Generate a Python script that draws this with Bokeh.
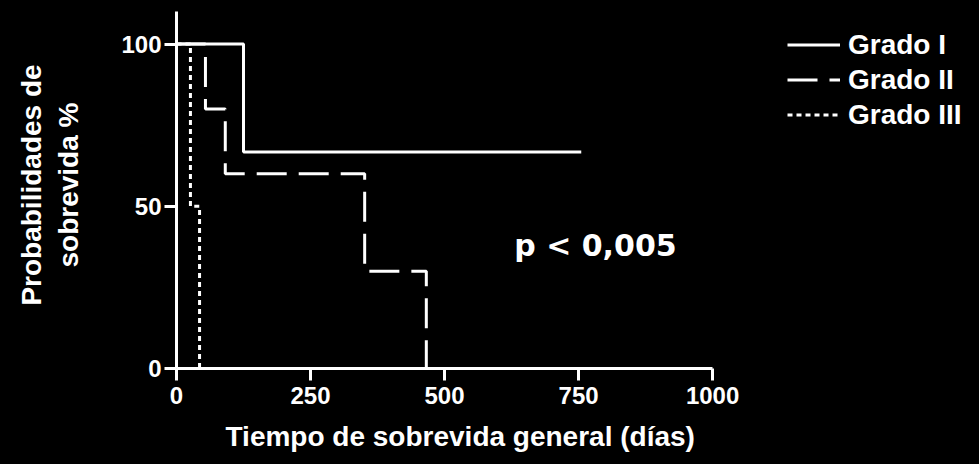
from bokeh.plotting import figure
from bokeh.models import Range1d, Legend, LegendItem, Label, FixedTicker, Title
from bokeh.embed import file_html
from bokeh.resources import INLINE

# Kaplan-Meier step data (days, survival %)
g1_time = [0, 125, 755]
g1_surv = [100, 66.7, 66.7]
g2_time = [0, 54, 91, 351, 466]
g2_surv = [100, 80, 60, 30, 0]
g3_time = [0, 26, 43]
g3_surv = [100, 50, 0]

x_ticks = [0, 250, 500, 750, 1000]
y_ticks = [0, 50, 100]
series_names = ["Grado I", "Grado II", "Grado III"]
x_title = "Tiempo de sobrevida general (días)"
y_title = "Probabilidades de\nsobrevida %"
p_text = "p < 0,005"

FONT = "Liberation Sans"

# frame spans to the right/top edges so the legend is not clipped; axes are bounded
p = figure(width=979, height=464, output_backend="svg", toolbar_location=None,
           x_range=Range1d(0, 1496), y_range=Range1d(0, 113.1),
           min_border_left=176, min_border_right=1, min_border_top=1, min_border_bottom=96)
p.styles = {"background-color": "black"}
p.background_fill_color = "black"
p.border_fill_color = "black"
p.outline_line_color = None
p.xgrid.visible = False
p.ygrid.visible = False

for ax in (p.xaxis[0], p.yaxis[0]):
    ax.axis_line_color = "white"
    ax.axis_line_width = 3
    ax.major_tick_line_color = "white"
    ax.major_tick_line_width = 3
    ax.major_tick_out = 12
    ax.major_tick_in = 0
    ax.minor_tick_line_color = None
    ax.major_label_text_color = "white"
    ax.major_label_text_font = FONT
    ax.major_label_text_font_style = "bold"
    ax.major_label_text_font_size = "24px"
    ax.axis_label_text_color = "white"
    ax.axis_label_text_font = FONT
    ax.axis_label_text_font_style = "bold"
    ax.axis_label_text_font_size = "28px"

p.xaxis.bounds = (0, 1000)
p.yaxis.bounds = (0, 110)
p.xaxis.ticker = FixedTicker(ticks=x_ticks)
p.yaxis.ticker = FixedTicker(ticks=y_ticks)
p.xaxis.major_label_standoff = 6
p.yaxis.major_label_standoff = 3
p.yaxis.axis_label = y_title
p.yaxis.axis_label_standoff = 34

p.add_layout(Title(text=x_title, text_color="white", text_font=FONT, text_font_style="bold",
                   text_font_size="28px", align="left", offset=49, standoff=25), "below")

r1 = p.step(g1_time, g1_surv, mode="after", line_color="white", line_width=3)
r2 = p.step(g2_time, g2_surv, mode="after", line_color="white", line_width=3, line_dash="30 12")
r3 = p.step(g3_time, g3_surv, mode="after", line_color="white", line_width=3, line_dash="5 4")

legend = Legend(items=[LegendItem(label=series_names[0], renderers=[r1]),
                       LegendItem(label=series_names[1], renderers=[r2]),
                       LegendItem(label=series_names[2], renderers=[r3])],
                location=(611, 236))
legend.background_fill_alpha = 0
legend.border_line_color = None
legend.label_text_color = "white"
legend.label_text_font = FONT
legend.label_text_font_style = "bold"
legend.label_text_font_size = "28px"
legend.glyph_width = 53
legend.glyph_height = 35
legend.label_height = 35
legend.label_standoff = 8
legend.spacing = 0
legend.padding = 0
legend.margin = 0
p.add_layout(legend, "center")

p.add_layout(Label(x=630, y=38, text=p_text, text_color="white", text_font="DejaVu Sans",
                   text_font_style="bold", text_font_size="30px", text_baseline="middle"))

open("out.html", "w").write(file_html(p, INLINE))
